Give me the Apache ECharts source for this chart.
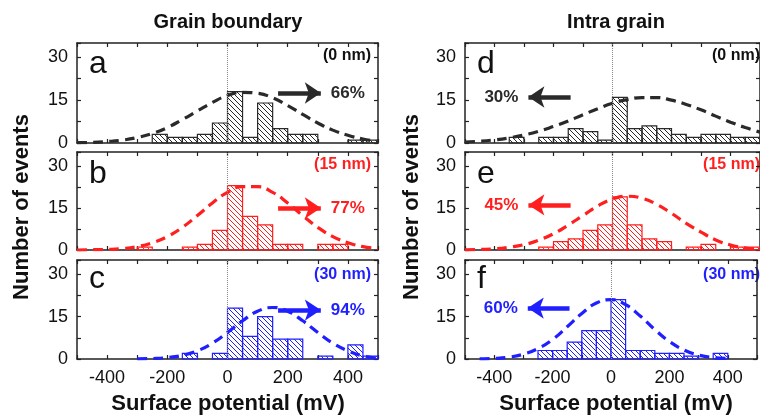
<!DOCTYPE html>
<html><head><meta charset="utf-8">
<script src="https://cdn.jsdelivr.net/npm/echarts@6/dist/echarts.min.js"></script>
<style>html,body{margin:0;padding:0;background:#fff}#c{width:760px;height:417px}</style>
</head><body><div id="c"></div>
<script>
// ---- data ----
const binWidth = 50;
const binStarts = [-500,-450,-400,-350,-300,-250,-200,-150,-100,-50,0,50,100,150,200,250,300,350,400,450];
const countsA = [0,0,0,0,0,3,2,2,3,7,18,2,14,5,3,3,0,0,1,1];
const countsB = [0,0,0,0,1,0,0,1,2,7,23,12,9,2,2,0,2,2,0,0];
const countsC = [0,0,0,0,0,0,0,2,0,2,18,8,15,7,7,0,1,0,5,1];
const countsD = [0,0,0,2,0,2,2,5,4,1,16,5,6,5,3,2,3,3,2,2];
const countsE = [0,0,0,0,0,1,3,4,7,9,19,9,4,3,0,1,2,0,1,1];
const countsF = [0,0,0,0,0,3,3,6,10,10,21,3,3,2,2,1,0,2,0,0];

const fitXFull = [-500,-450,-400,-350,-300,-250,-200,-150,-100,-50,0,50,100,150,200,250,300,350,400,450,500];
const fitXC = [-300,-250,-200,-150,-100,-50,0,50,100,150,200,250,300,350,400,450,500];
const fitXF = [-450,-400,-350,-300,-250,-200,-150,-100,-50,0,50,100,150,200,250,300,350,400];
const fitA = [0.1,0.2,0.5,1.0,1.9,3.3,5.4,8.2,11.2,14.2,16.6,17.7,17.4,15.8,13.1,10.0,7.0,4.5,2.7,1.4,0.5];
const fitB = [0.0,0.1,0.2,0.5,1.2,2.6,4.8,8.1,12.3,16.8,20.6,22.6,22.6,20.6,16.8,12.3,8.1,4.8,2.6,1.2,0.5];
const fitC = [0.05,0.16,0.5,1.3,2.9,5.6,9.4,13.5,16.9,18.2,16.9,13.5,9.4,5.6,2.9,1.1,0.3];
const fitD = [0.35,0.63,1.1,1.8,2.8,4.1,5.8,7.7,9.9,12.0,13.9,15.2,15.9,15.9,15.0,13.5,11.6,9.4,7.3,5.4,3.8];
const fitE = [0.07,0.2,0.4,1.0,1.9,3.5,5.8,8.9,12.3,15.7,18.2,19.2,18.5,16.3,13.1,9.5,6.4,3.6,1.8,0.7,0.3];
const fitF = [0.07,0.2,0.65,1.7,3.7,6.9,11.4,16.1,19.8,21.0,19.2,15.2,10.4,6.2,3.2,1.4,0.5,0.2];

// arrows (data coords): [tail x, head x, y]
const arrowA = [168, 310, 17.5];
const arrowB = [168, 310, 15];
const arrowC = [168, 310, 17.3];
const arrowD = [-142, -285, 16.1];
const arrowE = [-142, -285, 16.1];
const arrowF = [-142, -285, 18];

const xTickLabels = [-400,-200,0,200,400];
const yTickLabels = [0,15,30];
const panelLetters = ['a','b','c','d','e','f'];
const thicknessLabels = ['(0 nm)','(15 nm)','(30 nm)','(0 nm)','(15 nm)','(30 nm)'];
const percents = ['66%','77%','94%','30%','45%','60%'];
const columnTitles = ['Grain boundary','Intra grain'];
const xName = 'Surface potential (mV)';
const yName = 'Number of events';

// ---- styling ----
const FONT = '"Liberation Sans", Arial, sans-serif';
const BLACK = '#2a2a2a', RED = '#ff1f1f', BLUE = '#1f1fff';
const panelColors = [BLACK, RED, BLUE, BLACK, RED, BLUE];
const counts = [countsA,countsB,countsC,countsD,countsE,countsF];
const fitsX = [fitXFull, fitXFull, fitXC, fitXFull, fitXFull, fitXF];
const fitsY = [fitA,fitB,fitC,fitD,fitE,fitF];
const arrows = [arrowA,arrowB,arrowC,arrowD,arrowE,arrowF];

const colLeft = [77, 465], colWidth = [301, 302];
const rowTop = [43, 152, 260], rowHeight = [100, 98, 99];

function hatch(color){
  const s = 5;
  const c = document.createElement('canvas'); c.width = s; c.height = s;
  const g = c.getContext('2d'); g.strokeStyle = color; g.lineWidth = 1;
  g.beginPath();
  for (const k of [-s, 0, s]) { g.moveTo(k, 0); g.lineTo(k + s, s); }
  g.stroke();
  return c;
}

const grids = [], xAxes = [], yAxes = [], series = [], graphics = [];
for (let i = 0; i < 6; i++) {
  const col = i < 3 ? 0 : 1, row = i % 3;
  const color = panelColors[i];
  grids.push({left: colLeft[col], top: rowTop[row], width: colWidth[col], height: rowHeight[row], containLabel: false});
  const axLine = {show: true, onZero: false, lineStyle: {color: '#222', width: 1.5}};
  const tick = {show: true, inside: true, length: 4, lineStyle: {color: '#222', width: 1.2}};
  const xBase = {gridIndex: i, type: 'value', min: -500, max: 500, interval: 100, axisLine: axLine, axisTick: tick, splitLine: {show: false}};
  xAxes.push(Object.assign({}, xBase, {position: 'bottom', axisLabel: {show: row === 2, fontSize: 18, color: '#111', fontFamily: FONT, margin: 10,
    formatter: v => xTickLabels.includes(v) ? String(v) : ''}}));
  xAxes.push(Object.assign({}, xBase, {position: 'top', axisLabel: {show: false}}));
  const yBase = {gridIndex: i, type: 'value', min: 0, max: 35, interval: 7.5, axisLine: axLine, axisTick: tick, splitLine: {show: false}};
  yAxes.push(Object.assign({}, yBase, {position: 'left', axisLabel: {show: true, fontSize: 18, color: '#111', fontFamily: FONT, margin: 9,
    formatter: v => yTickLabels.includes(v) ? String(v) : ''}}));
  yAxes.push(Object.assign({}, yBase, {position: 'right', axisLabel: {show: false}}));

  const pat = {image: hatch(color), repeat: 'repeat'};
  series.push({
    type: 'custom', xAxisIndex: 2 * i, yAxisIndex: 2 * i,
    data: binStarts.map((b, k) => [b, counts[i][k]]),
    encode: {x: 0, y: 1},
    renderItem: (params, api) => {
      const x0 = api.value(0), y = api.value(1);
      if (!y) return null;
      const p0 = api.coord([x0, y]), p1 = api.coord([x0 + binWidth, 0]);
      return {type: 'rect', shape: {x: p0[0], y: p0[1], width: p1[0] - p0[0], height: p1[1] - p0[1]},
        style: {fill: pat, stroke: color, lineWidth: 1.2}};
    }
  });
  const a = arrows[i];
  series.push({
    type: 'line', xAxisIndex: 2 * i, yAxisIndex: 2 * i, smooth: true, showSymbol: false, silent: true,
    data: fitsX[i].map((x, k) => [x, fitsY[i][k]]),
    lineStyle: {color: color, width: 3.2, type: [10, 6]}, z: 3,
    markLine: {
      silent: true, animation: false, symbol: ['none', 'none'],
      data: [
        {xAxis: 0, lineStyle: {type: 'dotted', color: '#888', width: 1}, label: {show: false}},
        [
          {coord: [a[0], a[2]], symbol: 'none', lineStyle: {type: 'solid', color: color, width: 4.5},
            label: {show: true, position: 'end', distance: 10, formatter: percents[i], color: color, fontWeight: 'bold', fontSize: 17, fontFamily: FONT}},
          {coord: [a[1], a[2]], symbol: 'arrow', symbolSize: 16}
        ]
      ]
    }
  });

  // panel letter & thickness label
  const letterY = [64, 174, 279][row];
  graphics.push({type: 'text', x: colLeft[col] + 12, y: letterY,
    style: {text: panelLetters[i], font: '32px ' + FONT, fill: '#111', align: 'left', verticalAlign: 'middle'}});
  const thY = [56, 165, 275][row];
  graphics.push({type: 'text', x: colLeft[col] + colWidth[col] - 7, y: thY,
    style: {text: thicknessLabels[i], font: 'bold 16px ' + FONT, fill: color === BLACK ? '#111' : color, align: 'right', verticalAlign: 'middle'}});
}

for (let c = 0; c < 2; c++) {
  const cx = colLeft[c] + 151;
  graphics.push({type: 'text', x: cx, y: 22, style: {text: columnTitles[c], font: 'bold 20px ' + FONT, fill: '#111', align: 'center', verticalAlign: 'middle'}});
  graphics.push({type: 'text', x: cx, y: 404, style: {text: xName, font: 'bold 22px ' + FONT, fill: '#111', align: 'center', verticalAlign: 'middle'}});
  graphics.push({type: 'text', x: [22, 412][c], y: 207, rotation: Math.PI / 2,
    style: {text: yName, font: 'bold 22px ' + FONT, fill: '#111', align: 'center', verticalAlign: 'middle'}});
}

const chart = echarts.init(document.getElementById('c'), null, {renderer: 'canvas'});
chart.setOption({
  animation: false,
  backgroundColor: '#fff',
  grid: grids, xAxis: xAxes, yAxis: yAxes, series: series, graphic: graphics
});
</script></body></html>
